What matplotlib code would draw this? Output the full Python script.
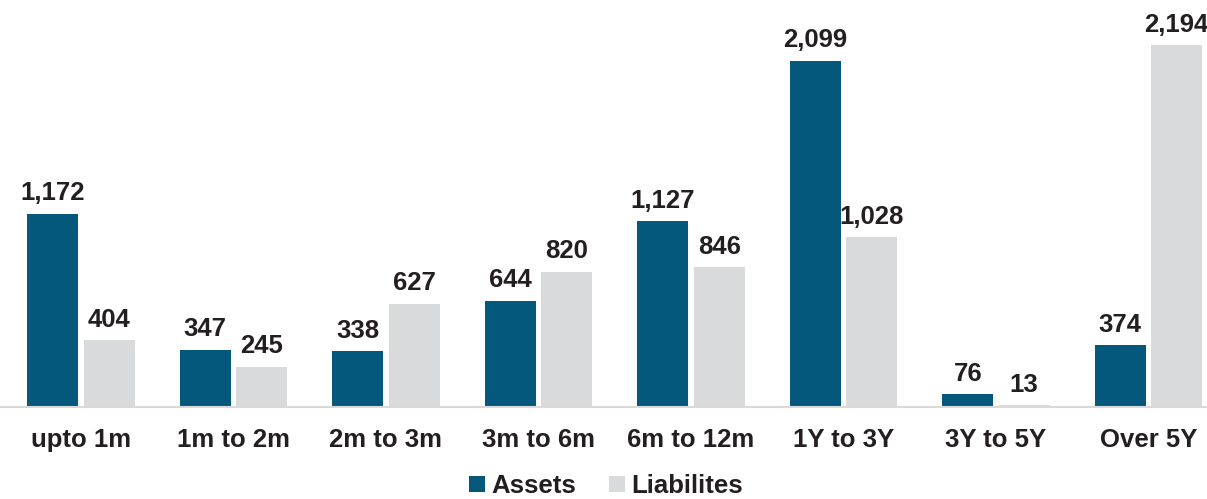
import numpy as np
import matplotlib.pyplot as plt

plt.rcParams['font.family'] = ['Liberation Sans', 'DejaVu Sans']

# Data
categories = ['upto 1m', '1m to 2m', '2m to 3m', '3m to 6m', '6m to 12m', '1Y to 3Y', '3Y to 5Y', 'Over 5Y']
assets = [1172, 347, 338, 644, 1127, 2099, 76, 374]
liabilities = [404, 245, 627, 820, 846, 1028, 13, 2194]

asset_color = '#03587c'
liab_color = '#d9dadc'
text_color = '#231f20'

fig = plt.figure(figsize=(12.07, 4.99), dpi=100)
ax = fig.add_axes([0, 0.1844, 1, 0.8156])

x = np.arange(len(categories))
w = 0.334
off = 0.185
b1 = ax.bar(x - off, assets, w, color=asset_color, label='Assets')
b2 = ax.bar(x + off, liabilities, w, color=liab_color, label='Liabilites')

for bars, vals in [(b1, assets), (b2, liabilities)]:
    for bar, v in zip(bars, vals):
        ax.annotate(f'{v:,}', (bar.get_x() + bar.get_width() / 2, v),
                    xytext=(0, 6), textcoords='offset points',
                    ha='center', va='bottom', fontsize=18.5,
                    fontweight='bold', color=text_color)

ax.set_xlim(-0.531, 7.384)
ax.set_ylim(0, 2467)
ax.set_xticks(x)
ax.set_xticklabels(categories, fontsize=18.5, fontweight='bold', color=text_color)
ax.tick_params(axis='x', length=0, pad=15)
ax.set_yticks([])
for s in ['top', 'right', 'left']:
    ax.spines[s].set_visible(False)
ax.spines['bottom'].set_color('#d9d9d9')
ax.spines['bottom'].set_linewidth(1.5)

leg = fig.legend(loc='lower center', bbox_to_anchor=(0.502, -0.045), ncol=2, frameon=False,
                 prop={'size': 18.5, 'weight': 'bold'}, handlelength=0.6, handleheight=0.6,
                 handletextpad=0.25, columnspacing=1.3)
for t in leg.get_texts():
    t.set_color(text_color)

fig.savefig('out.png', dpi=100)
